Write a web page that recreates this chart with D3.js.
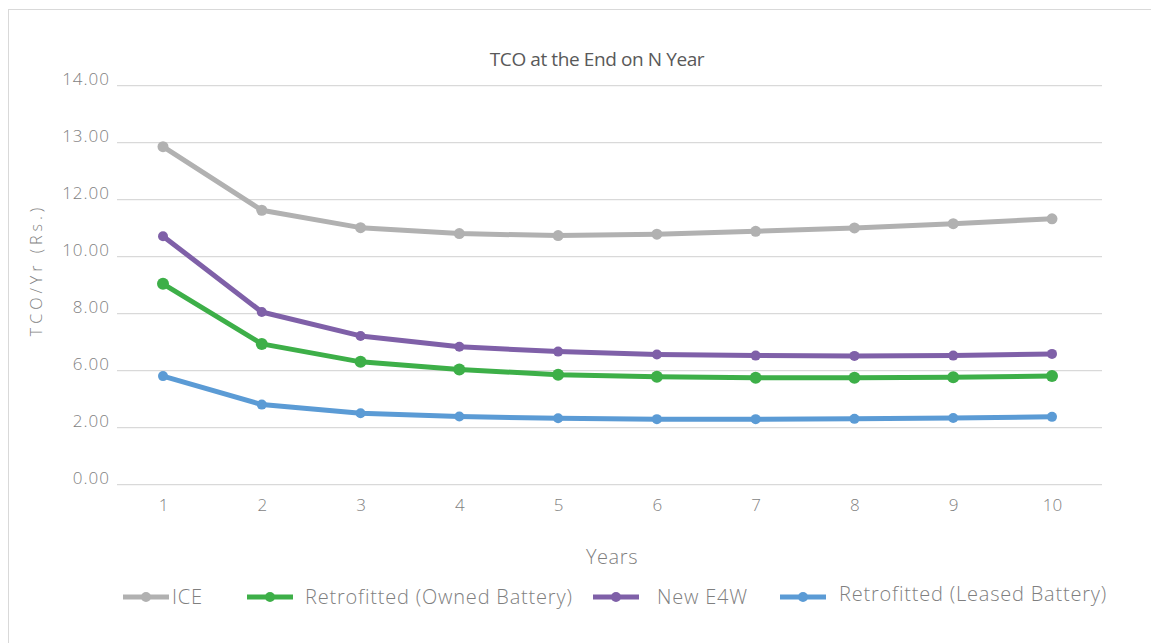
<!DOCTYPE html>
<html>
<head>
<meta charset="utf-8">
<script src="https://cdn.jsdelivr.net/npm/d3@7/dist/d3.min.js"></script>
<style>
  html, body { margin: 0; padding: 0; background: #fff; }
  svg { display: block; font-family: "Open Sans", "Noto Sans", sans-serif; }
</style>
</head>
<body>
<div id="chart"></div>
<script>
// Total cost of ownership per year for each vehicle option, years 1–10
const years = [1, 2, 3, 4, 5, 6, 7, 8, 9, 10];
const ice = [11.86, 9.63, 9.02, 8.81, 8.74, 8.79, 8.89, 9.01, 9.16, 9.33];
const retrofittedOwned = [7.05, 4.94, 4.31, 4.04, 3.86, 3.79, 3.75, 3.75, 3.77, 3.81];
const newE4W = [8.72, 6.06, 5.22, 4.84, 4.67, 4.57, 4.53, 4.52, 4.53, 4.59];
const retrofittedLeased = [3.81, 2.81, 2.51, 2.39, 2.33, 2.30, 2.30, 2.31, 2.34, 2.38];

const yTickValues = [0, 2, 4, 6, 8, 10, 12, 14];
const yTickLabels = ["0.00", "2.00", "6.00", "8.00", "10.00", "12.00", "13.00", "14.00"];

const seriesNames = ["ICE", "Retrofitted (Owned Battery)", "New E4W", "Retrofitted (Leased Battery)"];
const seriesValues = [ice, retrofittedOwned, newE4W, retrofittedLeased];
const seriesColors = ["#b1b1b1", "#3daf48", "#7f60a8", "#5b9bd5"];
const markerRadius = [5.5, 6, 5, 5];

const W = 1151, H = 643;
const margin = { left: 117, right: 49, top: 86, bottom: 158 };

const svg = d3.select("#chart").append("svg")
  .attr("width", W).attr("height", H);

// outer frame
svg.append("rect")
  .attr("x", 8.5).attr("y", 9.5)
  .attr("width", W + 10).attr("height", H + 10)
  .attr("fill", "none").attr("stroke", "#d9d9d9").attr("stroke-width", 1);

const x = d3.scalePoint()
  .domain(years)
  .range([163, 1052]);

const y = d3.scaleLinear()
  .domain([0, 14])
  .range([H - margin.bottom - 0.3, margin.top - 0.3]);

// horizontal gridlines
const gridG = svg.append("g").attr("class", "grid");
gridG.selectAll("line")
  .data(yTickValues)
  .join("line")
  .attr("x1", margin.left).attr("x2", W - margin.right)
  .attr("y1", d => y(d)).attr("y2", d => y(d))
  .attr("stroke", "#d9d9d9").attr("stroke-width", 1.3);

// y axis labels
const yAxis = d3.axisLeft(y)
  .tickValues(yTickValues)
  .tickFormat((d, i) => yTickLabels[i])
  .tickSize(0)
  .tickPadding(7);
const yg = svg.append("g")
  .attr("transform", `translate(${margin.left},0)`)
  .call(yAxis);
yg.select(".domain").remove();
yg.selectAll("text")
  .attr("fill", "#7f7f7f")
  .style("font-size", "17px")
  .style("letter-spacing", "1px")
  .style("font-family", "'Open Sans', sans-serif")
  .style("font-weight", "300")
  .attr("dy", "-0.1em");

// x axis labels
const xAxis = d3.axisBottom(x).tickSize(0).tickPadding(14);
const xg = svg.append("g")
  .attr("transform", `translate(0,${y(0)})`)
  .call(xAxis);
xg.select(".domain").remove();
xg.selectAll("text")
  .attr("fill", "#7f7f7f")
  .style("font-size", "17px")
  .style("font-family", "'Open Sans', sans-serif")
  .style("font-weight", "300");

// series lines and markers
const line = d3.line()
  .x((d, i) => x(years[i]))
  .y(d => y(d));

seriesValues.forEach((vals, s) => {
  const g = svg.append("g").attr("class", "series");
  g.append("path")
    .datum(vals)
    .attr("d", line)
    .attr("fill", "none")
    .attr("stroke", seriesColors[s])
    .attr("stroke-width", 5)
    .attr("stroke-linejoin", "round")
    .attr("stroke-linecap", "round");
  g.selectAll("circle")
    .data(vals)
    .join("circle")
    .attr("cx", (d, i) => x(years[i]))
    .attr("cy", d => y(d))
    .attr("r", markerRadius[s])
    .attr("fill", seriesColors[s]);
});

// title
svg.append("text")
  .attr("x", 597).attr("y", 66)
  .attr("text-anchor", "middle")
  .attr("fill", "#595959")
  .style("font-size", "19px")
  .style("font-family", "'Open Sans', sans-serif")
  .style("letter-spacing", "-0.4px")
  .text("TCO at the End on N Year");

// axis titles
svg.append("text")
  .attr("x", 612).attr("y", 564)
  .attr("text-anchor", "middle")
  .attr("fill", "#7f7f7f")
  .style("font-size", "20px")
  .style("letter-spacing", "0.6px")
  .style("font-family", "'Open Sans', sans-serif")
  .style("font-weight", "300")
  .text("Years");

svg.append("text")
  .attr("transform", "translate(42,270) rotate(-90)")
  .attr("text-anchor", "middle")
  .attr("fill", "#7f7f7f")
  .style("font-size", "16px")
  .style("letter-spacing", "4px")
  .style("font-family", "'Open Sans', sans-serif")
  .style("font-weight", "300")
  .text("TCO/Yr (Rs.)");

// legend
const legendLineX = [123, 247, 593, 780];
const legendTextX = [172, 305, 657, 839];
const legendY = 597;
const legend = svg.append("g").attr("class", "legend");
seriesNames.forEach((name, s) => {
  const lx = legendLineX[s];
  legend.append("line")
    .attr("x1", lx).attr("x2", lx + 46)
    .attr("y1", legendY).attr("y2", legendY)
    .attr("stroke", seriesColors[s]).attr("stroke-width", 5);
  legend.append("circle")
    .attr("cx", lx + 23).attr("cy", legendY)
    .attr("r", 5).attr("fill", seriesColors[s]);
  legend.append("text")
    .attr("x", legendTextX[s])
    .attr("y", legendY + 7 - (s === 3 ? 3 : 0))
    .attr("fill", "#7f7f7f")
    .style("font-size", "20px")
    .style("letter-spacing", "0.8px")
    .style("font-family", "'Open Sans', sans-serif")
    .style("font-weight", "300")
    .text(name);
});
</script>
</body>
</html>
